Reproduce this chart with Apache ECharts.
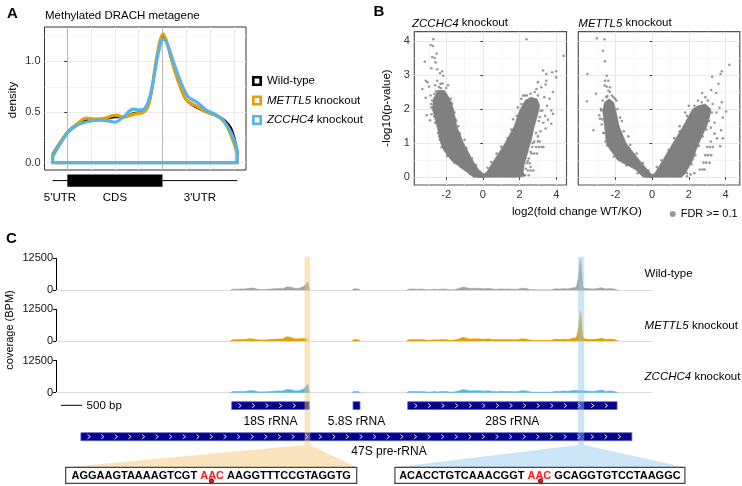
<!DOCTYPE html>
<html>
<head>
<meta charset="utf-8">
<script src="https://cdn.jsdelivr.net/npm/echarts@6.0.0/dist/echarts.min.js"></script>
<style>
html,body{margin:0;padding:0;background:#fff;}
#chart{width:742px;height:486px;}
</style>
</head>
<body>
<div id="chart"></div>
<script>
const FONT = '"Liberation Sans", Arial, Helvetica, sans-serif';

// ---------------- Panel A : metagene density ----------------
const metaWildType = [[-0.62,0.085],[0,0.3],[0.4,0.38],[0.8,0.42],[1.2,0.42],[1.6,0.43],[2.0,0.45],[2.4,0.45],[2.8,0.49],[3.2,0.5],[3.45,0.6],[3.8,1.08],[4.03,1.25],[4.2,1.17],[4.4,1.0],[4.7,0.78],[5.0,0.62],[5.4,0.55],[5.85,0.5],[6.3,0.46],[6.6,0.42],[6.9,0.33],[7.14,0.12]];
const metaMETTL5 = [[-0.62,0.07],[0,0.3],[0.4,0.38],[0.8,0.44],[1.2,0.43],[1.6,0.44],[2.0,0.47],[2.4,0.45],[2.8,0.48],[3.2,0.5],[3.45,0.6],[3.8,1.1],[4.03,1.27],[4.2,1.18],[4.4,1.0],[4.7,0.78],[5.0,0.62],[5.4,0.56],[5.85,0.5],[6.3,0.46],[6.6,0.4],[6.9,0.26],[7.14,0.09]];
const metaZCCHC4 = [[-0.62,0.06],[0,0.29],[0.4,0.37],[0.95,0.41],[1.37,0.42],[1.79,0.41],[2.0,0.4],[2.35,0.45],[2.77,0.53],[3.05,0.52],[3.3,0.55],[3.54,0.72],[3.82,1.08],[4.03,1.22],[4.17,1.19],[4.38,1.05],[4.73,0.82],[5.08,0.65],[5.43,0.6],[5.85,0.52],[6.27,0.47],[6.55,0.42],[6.9,0.29],[7.14,0.125]];
const metaBoundaries = [0, 4];
const metaGridX = [1, 2, 3, 5, 6, 7];
const metaYTicks = [0, 0.5, 1.0];
const metaYMinor = [0.25, 0.75, 1.25];
const metaRegionNames = ["5'UTR", 'CDS', "3'UTR"];
const metaRegionStart = [-0.62, 0, 4];
const metaRegionEnd = [0, 4, 7.14];
const metaSeriesNames = ['Wild-type', 'METTL5 knockout', 'ZCCHC4 knockout'];

// ---------------- Panel B : volcano plots ----------------
const volcanoXTicks = [-2, 0, 2, 4];
const volcanoXMinor = [-3, -1, 1, 3];
const volcanoYTicks = [0, 1, 2, 3, 4];
const volcanoYMinor = [0.5, 1.5, 2.5, 3.5];
const zcchc4DenseLeft = [[0.1,0],[-0.5,0],[-1.0,0.2],[-1.72,0.49],[-2.15,0.8],[-2.3,1.0],[-2.5,1.49],[-2.75,2.0],[-2.7,2.3],[-2.45,2.55],[-2.1,2.55],[-1.85,2.35],[-1.6,2.0],[-1.42,1.49],[-1.05,1.0],[-0.55,0.49],[-0.2,0.2],[0.1,0.08]];
const zcchc4DenseRight = [[-0.3,0],[2.0,0],[2.3,0.04],[2.2,0.15],[2.25,0.35],[2.38,0.6],[2.5,0.84],[2.65,1.1],[2.8,1.48],[3.0,1.86],[3.1,2.1],[2.95,2.3],[2.6,2.35],[2.3,2.25],[2.0,1.96],[1.7,1.49],[1.2,1.0],[0.6,0.49],[0.2,0.15],[-0.1,0.05]];
const zcchc4Points = [[-2.7,4.05],[-2.85,3.88],[-2.72,3.85],[-2.52,3.63],[-2.76,3.53],[-2.63,3.5],[-3.17,3.39],[-2.58,3.37],[-2.81,3.2],[-2.49,3.17],[-2.22,3.11],[-2.34,3.05],[-2.16,2.98],[-3.12,2.83],[-3.03,2.79],[-2.49,2.83],[-2.31,2.74],[-3.3,2.59],[-2.94,2.66],[-3.12,2.33],[-2.85,2.4],[-2.76,2.25],[-3.06,1.82],[-2.88,1.67],[-2.67,1.96],[-1.77,2.2],[-1.68,2.16],[-2.13,0.89],[-2.04,0.8],[-2.6,2.7],[-2.4,2.65],[-2.2,2.75],[-2.0,2.62],[-1.9,2.7],[-2.55,2.52],[-2.8,2.05],[-2.8,1.85],[-2.6,1.6],[-2.45,1.3],[-2.35,1.1],[-1.85,0.7],[-1.4,0.45],[-1.0,0.25],[-1.5,1.7],[-1.35,1.5],[-1.0,1.1],
[-0.7,0.1],[-1.2,0.3],[-1.55,0.42],[-1.95,0.62],[-2.25,0.88],[-2.38,1.2],[-2.55,1.6],[-2.65,1.78],[-2.82,2.15],[-2.65,2.45],[-2.3,2.62],[-1.75,2.3],[-1.55,1.9],[-1.45,1.65],[-1.25,1.28],[-0.9,0.86],[-0.6,0.56],[-0.38,0.36],[-0.16,0.17],
[2.38,4.05],[4.4,3.56],[3.28,3.13],[3.46,3.03],[3.78,3.08],[4.0,3.11],[4.0,2.93],[3.0,2.79],[3.46,2.83],[3.19,2.64],[3.42,2.72],[3.82,2.5],[2.29,2.4],[2.83,2.5],[2.92,2.59],[3.64,2.3],[3.73,1.96],[3.82,1.86],[3.55,1.69],[3.73,1.57],[3.42,1.43],[2.2,2.4],[2.47,2.2],[3.5,2.1],[3.24,1.96],[3.1,1.77],[2.1,2.3],[2.6,2.45],[3.0,2.4],[3.35,2.35],[3.4,1.8],[3.3,1.6],[3.15,1.35],[3.0,1.2],[1.9,2.05],[1.65,1.7],
[2.1,0.1],[2.35,0.25],[2.45,0.48],[2.6,0.75],[2.72,1.0],[2.9,1.3],[3.05,1.65],[3.15,1.95],[2.4,2.4],[2.1,2.15],[1.85,1.8],[1.55,1.4],[1.35,1.15],[1.0,0.9],[0.75,0.7],[0.45,0.45],[0.25,0.28],
[2.45,0.2],[2.6,0.2],[2.75,0.2],[2.4,0.41],[2.55,0.41],[2.5,0.55],[2.65,0.7],[2.8,0.7],[2.95,0.7],[2.7,0.89],[2.9,0.89],[3.05,0.89],[3.2,0.89],[3.3,0.89],[2.8,1.05],[3.0,1.05],[3.1,1.05],[2.6,0.3],[2.3,0.06],[2.5,0.06]];
const mettl5DenseLeft = [[0.05,0],[-0.49,0],[-0.9,0.22],[-1.88,0.5],[-2.35,0.85],[-2.5,1.0],[-2.6,1.5],[-2.7,1.95],[-2.6,2.2],[-2.35,2.3],[-2.1,2.2],[-2.0,2.0],[-1.8,1.5],[-1.42,1.0],[-0.69,0.5],[-0.3,0.25],[-0.05,0.1]];
const mettl5DenseRight = [[-0.3,0],[1.6,0],[1.8,0.1],[2.0,0.3],[2.22,0.5],[2.4,0.8],[2.55,1.0],[2.8,1.3],[2.98,1.5],[3.15,1.8],[3.2,2.0],[2.9,2.15],[2.5,2.1],[2.2,2.0],[1.69,1.5],[1.13,1.0],[0.58,0.5],[0.14,0.12]];
const mettl5Points = [[-3.02,4.08],[-2.6,4.05],[-2.69,3.71],[-2.57,3.4],[-3.53,3.03],[-2.48,2.98],[-2.57,2.83],[-2.39,2.83],[-2.6,2.69],[-2.48,2.66],[-2.3,2.64],[-2.39,2.54],[-2.3,2.5],[-3.07,2.45],[-3.56,2.23],[-2.12,2.35],[-2.03,2.3],[-2.89,1.82],[-2.84,1.72],[-3.2,1.38],[-2.78,1.96],[-2.57,1.96],[-2.7,2.25],[-2.45,2.38],[-2.2,2.4],[-2.75,1.55],[-2.65,1.3],[-2.55,1.05],[-2.2,0.8],[-1.7,0.6],[-1.3,0.42],[-1.9,2.0],[-1.65,1.65],[-1.3,1.2],
[-0.8,0.12],[-1.4,0.35],[-2.1,0.6],[-2.45,0.93],[-2.65,1.3],[-2.72,1.7],[-2.8,2.0],[-2.5,2.35],[-1.95,2.25],[-1.75,1.75],[-1.55,1.35],[-1.2,0.95],[-0.85,0.7],[-0.5,0.42],[-0.2,0.2],
[4.21,3.3],[3.8,3.11],[3.73,3.03],[3.27,2.95],[3.62,2.74],[3.22,2.56],[2.73,2.47],[3.49,2.47],[3.04,2.25],[3.8,2.2],[4.03,1.93],[3.67,2.04],[3.85,1.75],[3.76,1.38],[3.85,1.14],[3.71,0.91],[3.4,1.28],[3.54,1.14],[2.5,2.25],[2.9,2.35],[3.3,2.15],[3.5,1.9],[3.4,1.6],[3.2,1.45],[2.0,2.1],[1.8,1.9],[1.5,1.5],
[1.9,0.12],[2.15,0.38],[2.35,0.65],[2.55,0.92],[2.75,1.2],[2.95,1.4],[3.1,1.65],[3.25,1.9],[2.7,2.2],[2.3,2.1],[1.9,1.8],[1.5,1.35],[1.2,1.15],[0.9,0.8],[0.5,0.5],[0.25,0.3],
[2.6,0.23],[2.75,0.23],[2.86,0.23],[2.8,0.43],[2.95,0.43],[3.13,0.43],[2.9,0.65],[3.05,0.65],[3.22,0.65],[3.0,0.89],[3.15,0.89],[3.31,0.89],[3.2,1.05],[1.9,0.03],[2.1,0.08],[2.3,0.12]];

// ---------------- Panel C : rRNA coverage tracks ----------------
const covPos = [4150,4200,4300,4400,4500,4600,4700,4800,4900,5000,5100,5200,5300,5400,5500,5600,5700,5800,5900,5950,6000,6040,
 6500,
 7050,7100,7200,7260,
 7800,
 8350,8400,8500,8600,8700,8800,8900,9000,9100,9200,9300,9400,9500,9600,9700,9800,9900,10000,10100,10200,10300,
 10400,10500,10600,10700,10800,10900,11000,11100,11200,11300,11400,11500,11600,11700,11800,11900,12000,12100,12200,12300,
 12400,12450,12500,12550,12600,12700,12800,12900,13000,13100,13200,13300,13400];
const covWildType = [0,400,450,500,550,800,850,400,300,350,500,600,700,650,1300,1200,700,800,1500,2200,3300,0,
 null,
 0,600,500,0,
 null,
 0,450,500,400,500,350,200,450,300,500,450,200,350,700,1300,900,700,800,750,600,800,
 500,400,550,450,500,400,450,800,700,300,200,150,200,150,200,600,500,650,550,900,
 1200,5500,12300,1500,700,600,500,700,1000,500,700,500,0];
const covMETTL5 = [0,450,500,550,600,900,800,450,350,400,550,650,800,750,1700,1400,800,900,1000,800,700,0,
 null,
 0,550,450,0,
 null,
 0,500,550,450,550,400,250,500,350,550,500,250,400,750,1450,950,750,850,800,650,850,
 550,450,600,500,550,450,500,850,750,350,250,200,250,200,250,650,550,700,600,950,
 1300,5000,11600,1600,750,650,550,750,1100,550,750,550,0];
const covZCCHC4 = [0,400,450,500,500,750,800,400,300,350,450,600,700,650,1200,1100,700,800,1400,2300,3300,0,
 null,
 0,500,450,0,
 null,
 0,450,500,400,500,350,200,450,300,500,450,200,350,700,1250,900,700,800,750,600,800,
 500,400,550,450,500,400,450,800,700,300,200,150,200,150,200,600,500,650,550,800,
 900,800,900,700,700,600,500,700,1000,500,700,500,0];
const trackNames = ['Wild-type', 'METTL5 knockout', 'ZCCHC4 knockout'];
const covTicks = [0, 12500];
const geneNames = ['18S rRNA', '5.8S rRNA', '28S rRNA', '47S pre-rRNA'];
const geneStart = [4187, 7077, 8380, 593];
const geneEnd = [6033, 7243, 13367, 13720];
const geneRow = [0, 0, 0, 1];
const geneLabelPos = [5110, 7160, 10873, 7934];
const highlightStart = [5921, 12438];
const highlightEnd = [6057, 12585];
const scaleBarStart = 120;
const scaleBarLength = 500;
const seqLeft = ['AGGAAGTAAAAGTCGT', 'AAC', 'AAGGTTTCCGTAGGTG'];
const seqRight = ['ACACCTGTCAAACGGT', 'AAC', 'GCAGGTGTCCTAAGGC'];

// ---------------- styling / layout ----------------
const COL = {wt:'#000000', mettl5:'#E69F00', zcchc4:'#56B4E9', grey:'#808080', covGrey:'#a3a3a3', navy:'#00008b'};
const BAND_FILL = ['rgba(242,195,113,0.45)', 'rgba(144,199,237,0.45)'];
const BOX = [{x:65.7, w:291}, {x:394.9, w:290}];
const BOX_TOP = 467.3, BOX_H = 16;
const BAND_TOP = 256.7, BAND_BOTTOM = 445;
const GENE_ROW_TOP = [401.7, 432.7], GENE_ROW_H = [7.8, 8];
const GENE_LABEL_Y = [421.7, 451.7];

const axisText = {color:'#333', fontSize:11, fontFamily:FONT};

function closure(curve) {
  const first = curve[0], last = curve[curve.length - 1];
  return [last, [last[0], 0], [first[0], 0], first];
}
function metaSeries(name, curve, color, width, extra) {
  return [Object.assign({
    type:'line', name, data:curve, xAxisIndex:0, yAxisIndex:0, smooth:0.35,
    symbol:'none', color, lineStyle:{color, width}, itemStyle:{color}, z:3
  }, extra || {}), {
    type:'line', name, data:closure(curve), xAxisIndex:0, yAxisIndex:0, smooth:false,
    symbol:'none', color, lineStyle:{color, width, join:'round'}, itemStyle:{color}, z:3
  }];
}
function polySeries(polys, xi, yi) {
  return {
    type:'custom', name:'dense', xAxisIndex:xi, yAxisIndex:yi, silent:true, z:2,
    data: polys.map((p, i) => [p[0][0], p[0][1], i]), encode:{x:0, y:1},
    renderItem: (params, api) => ({
      type:'polygon',
      shape:{points: polys[params.dataIndex].map(pt => api.coord(pt))},
      style:{fill:COL.grey, stroke:COL.grey, lineWidth:0.6}
    })
  };
}
function volcanoAxesX(grid, min, max) {
  return [{
    type:'value', gridIndex:grid, min, max,
    axisLine:{show:false},
    axisTick:{show:true, length:2.5, customValues:volcanoXTicks, lineStyle:{color:'#333'}},
    axisLabel:Object.assign({customValues:volcanoXTicks, margin:4}, axisText),
    splitLine:{show:true, lineStyle:{color:'#e8e8e8', width:1}}
  }, {
    type:'value', gridIndex:grid, min, max, position:'bottom',
    axisLine:{show:false}, axisTick:{show:false, customValues:volcanoXMinor},
    axisLabel:{show:false, customValues:volcanoXMinor},
    splitLine:{show:true, lineStyle:{color:'#f3f3f3', width:0.7}}
  }];
}
function volcanoAxesY(grid, showLabels) {
  return [{
    type:'value', gridIndex:grid, min:-0.226, max:4.27,
    axisLine:{show:false},
    axisTick:{show:true, length:2.5, customValues:volcanoYTicks, lineStyle:{color:'#333'}},
    axisLabel:Object.assign({show:showLabels, customValues:volcanoYTicks, margin:4.5}, axisText),
    splitLine:{show:true, lineStyle:{color:'#e8e8e8', width:1}}
  }, {
    type:'value', gridIndex:grid, min:-0.226, max:4.27, position:'left',
    axisLine:{show:false}, axisTick:{show:false, customValues:volcanoYMinor},
    axisLabel:{show:false, customValues:volcanoYMinor},
    splitLine:{show:true, lineStyle:{color:'#f3f3f3', width:0.7}}
  }];
}
function covSeries(vals, color, idx) {
  return {
    type:'line', name:trackNames[idx], xAxisIndex:6 + idx, yAxisIndex:7 + idx,
    data: covPos.map((p, i) => [p, vals[i] === null ? '-' : vals[i]]),
    symbol:'none', smooth:false, connectNulls:false, silent:true,
    lineStyle:{color, width:0.6}, areaStyle:{color, opacity:1}, z:2
  };
}
function trackAxisX(grid) {
  return {type:'value', gridIndex:grid, min:0, max:14200,
    axisLine:{show:true, onZero:false, lineStyle:{color:'#dcdcdc', width:1}},
    axisTick:{show:false}, axisLabel:{show:false}, splitLine:{show:false}};
}
function trackAxisY(grid) {
  return {type:'value', gridIndex:grid, min:covTicks[0], max:covTicks[1], interval:covTicks[1] - covTicks[0],
    axisLine:{show:true, lineStyle:{color:'#000', width:1}},
    axisTick:{show:true, length:3, lineStyle:{color:'#000'}},
    axisLabel:Object.assign({margin:3, showMinLabel:true, showMaxLabel:true, formatter:v => String(v)}, axisText, {color:'#111'}),
    splitLine:{show:false}};
}
function txt(x, y, text, opt) {
  return Object.assign({type:'text', x, y, silent:true,
    style:Object.assign({text, fontSize:11, fontFamily:FONT, fill:'#000', align:'left', verticalAlign:'middle'}, (opt && opt.style) || {})},
    opt && opt.rotation ? {rotation:opt.rotation} : {});
}
const italRich = {i:{fontStyle:'italic', fontSize:11.5, fontFamily:FONT, fill:'#000', color:'#000'}};
function geneText(name) { return name.replace(/^(METTL5|ZCCHC4)/, '{i|$1}'); }

const seqRich = {
  b:{fontWeight:'bold', fontSize:11, fontFamily:FONT, fill:'#000'},
  r:{fontWeight:'bold', fontSize:11, fontFamily:FONT, fill:'#ff1a1a'}
};
function seqBoxGraphic(seq, k) {
  const b = BOX[k];
  return [{
    type:'rect', silent:true, z:20,
    shape:{x:b.x, y:BOX_TOP, width:b.w, height:BOX_H},
    style:{fill:'#fff', stroke:'#444', lineWidth:1.2}
  }, {
    type:'text', silent:true, z:21, x:b.x + b.w / 2, y:BOX_TOP + BOX_H / 2 + 0.5,
    style:{text:'{b|' + seq[0] + ' }{r|' + seq[1] + '}{b| ' + seq[2] + '}', rich:seqRich,
      fontSize:11, fontFamily:FONT, align:'center', verticalAlign:'middle'}
  }];
}

const ringIcon = 'path://M0,0L10,0L10,10L0,10Z M2.6,2.6L2.6,7.4L7.4,7.4L7.4,2.6Z';

const option = {
  animation:false,
  backgroundColor:'#fff',
  textStyle:{fontFamily:FONT},
  grid:[
    {left:44.5, top:27, width:201.5, height:143, show:true, borderColor:'#333', borderWidth:1, backgroundColor:'#fff'},
    {left:44.5, top:172, width:201.5, height:30, show:false},
    {left:414.3, top:31.7, width:152.2, height:153.3, show:true, borderColor:'#555', borderWidth:1.2, backgroundColor:'#fff'},
    {left:578.3, top:31.7, width:161.5, height:153.3, show:true, borderColor:'#555', borderWidth:1.2, backgroundColor:'#fff'},
    {left:56, top:258.3, width:596, height:32, show:false},
    {left:56, top:309.3, width:596, height:31.7, show:false},
    {left:56, top:360.5, width:596, height:32.2, show:false},
    {left:56, top:250, width:596, height:236, show:false}
  ],
  xAxis:[
    {type:'value', gridIndex:0, min:-0.96, max:7.51, axisLine:{show:false},
      axisTick:{show:false, customValues:metaGridX}, axisLabel:{show:false, customValues:metaGridX},
      splitLine:{show:true, lineStyle:{color:'#ebebeb', width:1}}},
    {type:'value', gridIndex:1, min:-0.96, max:7.51, show:false},
    ...volcanoAxesX(2, -3.74, 4.56),
    ...volcanoAxesX(3, -4.03, 4.78),
    trackAxisX(4), trackAxisX(5), trackAxisX(6),
    {type:'value', gridIndex:7, min:0, max:14200, show:false}
  ],
  yAxis:[
    {type:'value', gridIndex:0, min:-0.072, max:1.34, axisLine:{show:false},
      axisTick:{show:true, length:3, customValues:metaYTicks, lineStyle:{color:'#333'}},
      axisLabel:Object.assign({customValues:metaYTicks, margin:4, formatter:v => Number(v).toFixed(1)}, axisText),
      splitLine:{show:true, lineStyle:{color:'#ebebeb', width:1}}},
    {type:'value', gridIndex:0, min:-0.072, max:1.34, position:'left', axisLine:{show:false},
      axisTick:{show:false, customValues:metaYMinor}, axisLabel:{show:false, customValues:metaYMinor},
      splitLine:{show:true, lineStyle:{color:'#f3f3f3', width:0.7}}},
    {type:'value', gridIndex:1, min:0, max:1, show:false},
    ...volcanoAxesY(2, true),
    ...volcanoAxesY(3, false),
    trackAxisY(4), trackAxisY(5), trackAxisY(6),
    {type:'value', gridIndex:7, min:0, max:1, show:false}
  ],
  legend:[
    {left:252, top:75, orient:'vertical', itemWidth:10, itemHeight:10, itemGap:7.5, padding:0,
      selectedMode:false, icon:ringIcon, itemStyle:{borderWidth:0},
      data:metaSeriesNames,
      formatter:geneText,
      textStyle:{fontSize:11.5, fontFamily:FONT, color:'#000',
        rich:{i:{fontStyle:'italic', fontSize:11.5, fontFamily:FONT, color:'#000'}}}},
    {left:669.7, top:208.5, itemWidth:6, itemHeight:6, padding:0, selectedMode:false,
      data:[{name:'FDR >= 0.1', icon:'circle'}], itemStyle:{borderWidth:0},
      textStyle:{fontSize:11, fontFamily:FONT, color:'#000'}}
  ],
  series:[
    ...metaSeries(metaSeriesNames[0], metaWildType, COL.wt, 2.3, {
      markLine:{silent:true, symbol:'none', label:{show:false}, z:1,
        lineStyle:{color:'#b8b8b8', width:1, type:'solid'},
        data:metaBoundaries.map(v => ({xAxis:v}))}
    }),
    ...metaSeries(metaSeriesNames[1], metaMETTL5, COL.mettl5, 3.2),
    ...metaSeries(metaSeriesNames[2], metaZCCHC4, COL.zcchc4, 3.2),
    {
      type:'custom', name:'metagene model', xAxisIndex:1, yAxisIndex:2, silent:true, clip:false,
      data:metaRegionStart.map((s, i) => [s, metaRegionEnd[i], 0.5]), encode:{x:[0,1], y:2},
      renderItem:(params, api) => {
        const i = params.dataIndex;
        const x1 = api.coord([metaRegionStart[i], 0.5])[0];
        const x2 = api.coord([metaRegionEnd[i], 0.5])[0];
        const kids = [];
        if (metaRegionNames[i] === 'CDS') {
          kids.push({type:'rect', shape:{x:x1, y:174.5, width:x2 - x1, height:12.3}, style:{fill:'#000'}});
        } else {
          kids.push({type:'line', shape:{x1:x1, y1:180.6, x2:x2, y2:180.6}, style:{stroke:'#000', lineWidth:1}});
        }
        kids.push({type:'text', style:{text:metaRegionNames[i], x:(x1 + x2) / 2, y:197.5, align:'center',
          verticalAlign:'middle', fontSize:11.5, fontFamily:FONT, fill:'#000'}});
        return {type:'group', children:kids};
      }
    },
    polySeries([zcchc4DenseLeft, zcchc4DenseRight], 2, 3),
    {type:'scatter', name:'FDR >= 0.1', xAxisIndex:2, yAxisIndex:3, data:zcchc4Points,
      symbol:'circle', symbolSize:2.6, itemStyle:{color:COL.grey}, color:COL.grey, silent:true, z:3},
    polySeries([mettl5DenseLeft, mettl5DenseRight], 4, 5),
    {type:'scatter', name:'FDR >= 0.1', xAxisIndex:4, yAxisIndex:5, data:mettl5Points,
      symbol:'circle', symbolSize:2.6, itemStyle:{color:COL.grey}, color:COL.grey, silent:true, z:3},
    covSeries(covWildType, COL.covGrey, 0),
    covSeries(covMETTL5, COL.mettl5, 1),
    covSeries(covZCCHC4, COL.zcchc4, 2),
    {
      type:'custom', name:'genes', xAxisIndex:9, yAxisIndex:10, silent:true, clip:false, z:4,
      data:geneStart.map((s, i) => [s, geneEnd[i], 0.5]), encode:{x:[0,1], y:2},
      renderItem:(params, api) => {
        const i = params.dataIndex;
        const x1 = api.coord([geneStart[i], 0.5])[0];
        const x2 = api.coord([geneEnd[i], 0.5])[0];
        const top = GENE_ROW_TOP[geneRow[i]], h = GENE_ROW_H[geneRow[i]];
        const kids = [{type:'rect', shape:{x:x1, y:top, width:x2 - x1, height:h},
          style:{fill:COL.navy, stroke:'#6262c8', lineWidth:0.8}}];
        for (let cx = x1 + 8; cx < x2 - 4; cx += 13.6) {
          kids.push({type:'polyline', shape:{points:[[cx - 1.3, top + 1.8], [cx + 1.4, top + h / 2], [cx - 1.3, top + h - 1.8]]},
            style:{stroke:'#ffffff', lineWidth:0.9, fill:null}});
        }
        const lx = api.coord([geneLabelPos[i], 0.5])[0];
        kids.push({type:'text', style:{text:geneNames[i], x:lx, y:GENE_LABEL_Y[geneRow[i]], align:'center',
          verticalAlign:'middle', fontSize:12, fontFamily:FONT, fill:'#000'}});
        return {type:'group', children:kids};
      }
    },
    {
      type:'custom', name:'scale bar', xAxisIndex:9, yAxisIndex:10, silent:true, clip:false, z:4,
      data:[[scaleBarStart, scaleBarStart + scaleBarLength, 0.5]], encode:{x:[0,1], y:2},
      renderItem:(params, api) => {
        const x1 = api.coord([api.value(0), 0.5])[0];
        const x2 = api.coord([api.value(1), 0.5])[0];
        return {type:'group', children:[
          {type:'line', shape:{x1:x1, y1:405.3, x2:x2, y2:405.3}, style:{stroke:'#000', lineWidth:1}},
          {type:'text', style:{text:scaleBarLength + ' bp', x:x2 + 4.6, y:405.5, align:'left', verticalAlign:'middle',
            fontSize:11.5, fontFamily:FONT, fill:'#000'}}
        ]};
      }
    },
    {
      type:'custom', name:'highlight', xAxisIndex:9, yAxisIndex:10, silent:true, clip:false, z:10,
      data:highlightStart.map((s, i) => [s, highlightEnd[i], 0.5]), encode:{x:[0,1], y:2},
      renderItem:(params, api) => {
        const i = params.dataIndex;
        const x1 = api.coord([highlightStart[i], 0.5])[0];
        const x2 = api.coord([highlightEnd[i], 0.5])[0];
        const b = BOX[i];
        return {type:'group', children:[
          {type:'rect', shape:{x:x1, y:BAND_TOP, width:x2 - x1, height:BAND_BOTTOM - BAND_TOP}, style:{fill:BAND_FILL[i]}},
          {type:'polygon', shape:{points:[[x1, BAND_BOTTOM], [x2, BAND_BOTTOM], [b.x + b.w, BOX_TOP], [b.x, BOX_TOP]]},
            style:{fill:BAND_FILL[i]}}
        ]};
      }
    }
  ],
  graphic:[
    txt(7, 14, 'A', {style:{fontSize:15, fontWeight:'bold'}}),
    txt(373.5, 12, 'B', {style:{fontSize:15, fontWeight:'bold'}}),
    txt(6, 238.5, 'C', {style:{fontSize:15, fontWeight:'bold'}}),
    txt(45, 16, 'Methylated DRACH metagene', {style:{fontSize:11.5}}),
    txt(12.5, 100, 'density', {rotation:Math.PI / 2, style:{align:'center', fontSize:11.5}}),
    txt(412, 23.3, geneText('ZCCHC4 knockout'), {style:{rich:italRich, fontSize:11.5}}),
    txt(578.3, 23.3, geneText('METTL5 knockout'), {style:{rich:italRich, fontSize:11.5}}),
    txt(386.5, 108, '-log10(p-value)', {rotation:Math.PI / 2, style:{align:'center', fontSize:11.5}}),
    txt(512, 211.7, 'log2(fold change WT/KO)', {style:{fontSize:11.5}}),
    txt(9.5, 330, 'coverage (BPM)', {rotation:Math.PI / 2, style:{align:'center', fontSize:11}}),
    txt(644.6, 274, geneText(trackNames[0]), {style:{rich:italRich, fontSize:11.5}}),
    txt(644.6, 325.5, geneText(trackNames[1]), {style:{rich:italRich, fontSize:11.5}}),
    txt(644.6, 376.7, geneText(trackNames[2]), {style:{rich:italRich, fontSize:11.5}}),
    ...seqBoxGraphic(seqLeft, 0),
    ...seqBoxGraphic(seqRight, 1),
    {type:'circle', silent:true, z:22, shape:{cx:211.5, cy:481, r:2.2}, style:{fill:'#e8141b', stroke:'#5a0000', lineWidth:0.8}},
    {type:'circle', silent:true, z:22, shape:{cx:540.5, cy:481, r:2.2}, style:{fill:'#e8141b', stroke:'#5a0000', lineWidth:0.8}}
  ]
};

const chart = echarts.init(document.getElementById('chart'), null, {renderer:'canvas'});
chart.setOption(option);
</script>
</body>
</html>
